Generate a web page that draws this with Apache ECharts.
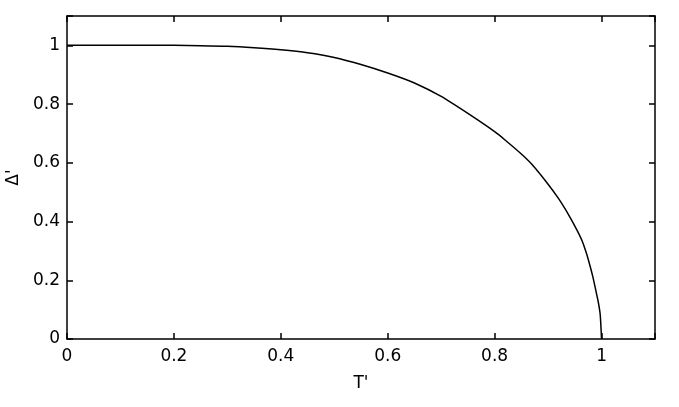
<!DOCTYPE html>
<html>
<head>
<meta charset="utf-8">
<script src="https://cdn.jsdelivr.net/npm/echarts@6/dist/echarts.min.js"></script>
<style>
  html, body { margin: 0; padding: 0; background: #fff; }
  #chart { width: 679px; height: 407px; }
</style>
</head>
<body>
<div id="chart"></div>
<script>
// values: reduced temperature T' and reduced gap
var tValues = [0, 0.1, 0.2, 0.25, 0.3, 0.35, 0.4, 0.45, 0.5, 0.55, 0.6, 0.65, 0.7, 0.75,
  0.8, 0.82, 0.85, 0.87, 0.9, 0.92, 0.94, 0.954, 0.963, 0.971, 0.978, 0.984, 0.989, 0.994, 0.9975, 1.0];
var gapValues = [1, 1, 1, 0.999, 0.997, 0.992, 0.985, 0.975, 0.959, 0.935, 0.906, 0.872, 0.826, 0.768,
  0.706, 0.677, 0.630, 0.594, 0.527, 0.477, 0.418, 0.371, 0.337, 0.296, 0.252, 0.210, 0.168, 0.125, 0.083, 0];

var chart = echarts.init(document.getElementById('chart'));

var points = tValues.map(function (t, i) { return [t, gapValues[i]]; });

var fmt = function (v) {
  var s = Math.round(v * 10) / 10;
  if (s > 1.05) return '';
  return String(s);
};

var labelFont = { fontFamily: 'DejaVu Sans', fontSize: 17, color: '#000' };

var mainAxis = function (extra) {
  return Object.assign({
    type: 'value',
    min: 0,
    max: 1.1,
    interval: 0.2,
    splitLine: { show: false },
    axisLine: { show: true, onZero: false, lineStyle: { color: '#000', width: 1.5 } },
    axisTick: { show: true, inside: true, length: 6, lineStyle: { color: '#000', width: 1.5 } }
  }, extra);
};

var option = {
  animation: false,
  backgroundColor: '#fff',
  grid: { left: 67, right: 24, top: 16, bottom: 68, containLabel: false, outerBoundsMode: 'none' },
  xAxis: [
    mainAxis({
      position: 'bottom',
      name: "T'",
      nameLocation: 'middle',
      nameGap: 36,
      nameTextStyle: labelFont,
      axisLabel: Object.assign({ margin: 9, formatter: fmt }, labelFont)
    }),
    mainAxis({ position: 'top', axisLabel: { show: false } })
  ],
  yAxis: [
    mainAxis({
      position: 'left',
      name: "Δ'",
      nameLocation: 'middle',
      nameGap: 43,
      nameRotate: 90,
      nameTextStyle: labelFont,
      axisLabel: Object.assign({ margin: 7, formatter: fmt }, labelFont)
    }),
    mainAxis({ position: 'right', axisLabel: { show: false } })
  ],
  series: [{
    type: 'line',
    data: points,
    showSymbol: false,
    smooth: 0.2,
    lineStyle: { color: '#000', width: 1.5 }
  }]
};

chart.setOption(option);
</script>
</body>
</html>
